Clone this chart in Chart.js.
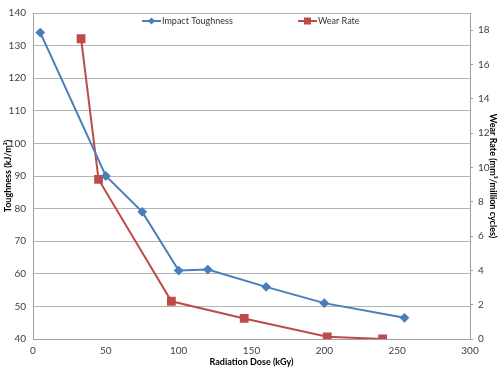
<!DOCTYPE html>
<html><head><meta charset="utf-8">
<script src="https://cdn.jsdelivr.net/npm/chart.js@4/dist/chart.umd.min.js"></script>
<style>html,body{margin:0;padding:0;background:#fff}#w{width:500px;height:368px}</style>
</head><body><div id="w"><canvas id="c"></canvas></div>
<script>
const toughDose = [5, 50, 75, 100, 120, 160, 200, 255];
const toughValues = [134, 90, 79, 61, 61.3, 56, 51, 46.5];
const wearDose = [33, 45, 95, 145, 202, 240];
const wearValues = [17.5, 9.3, 2.2, 1.2, 0.13, 0];
const leftTicks = [40, 50, 60, 70, 80, 90, 100, 110, 120, 130, 140];
const rightTicks = [0, 2, 4, 6, 8, 10, 12, 14, 16, 18];
const xTicks = [0, 50, 100, 150, 200, 250, 300];

const FONT = 'Lato, "Liberation Sans", sans-serif';
const blue = '#4a7ebb', red = '#be4b48';
const tickCol = '#404040';

const legendPlugin = {
  id: 'customLegend',
  afterDraw(chart) {
    const ctx = chart.ctx;
    const pos = [142, 298];
    const y = 21;
    chart.data.datasets.forEach((ds, i) => {
      const x = pos[i];
      ctx.save();
      ctx.strokeStyle = ds.borderColor; ctx.lineWidth = 2;
      ctx.beginPath(); ctx.moveTo(x, y); ctx.lineTo(x + 19, y); ctx.stroke();
      ctx.fillStyle = ds.backgroundColor;
      if (ds.pointStyle === 'rect') {
        ctx.fillRect(x + 6, y - 3.5, 7, 7);
      } else {
        ctx.beginPath(); ctx.moveTo(x + 9.5, y - 3.5); ctx.lineTo(x + 13, y); ctx.lineTo(x + 9.5, y + 3.5); ctx.lineTo(x + 6, y); ctx.closePath(); ctx.fill();
      }
      ctx.fillStyle = '#333'; ctx.font = '9px ' + FONT; ctx.textBaseline = 'middle';
      ctx.fillText(ds.label, x + 20, y);
      ctx.restore();
    });
  }
};

new Chart(document.getElementById('c'), {
  type: 'line',
  data: {
    datasets: [
      { label: 'Impact Toughness', data: toughDose.map((d, i) => ({x: d, y: toughValues[i]})), yAxisID: 'y',
        borderColor: blue, backgroundColor: blue, borderWidth: 2, pointStyle: 'rectRot', pointRadius: 3.5, tension: 0 },
      { label: 'Wear Rate', data: wearDose.map((d, i) => ({x: d, y: wearValues[i]})), yAxisID: 'y2',
        borderColor: red, backgroundColor: red, borderWidth: 2, pointStyle: 'rect', pointRadius: 4.8, tension: 0 }
    ]
  },
  options: {
    responsive: true, maintainAspectRatio: false, animation: false,
    layout: { padding: { top: 4, left: 0, right: 0, bottom: 0 } },
    plugins: { legend: { display: false }, tooltip: { enabled: false } },
    scales: {
      x: { type: 'linear', min: 0, max: 300,
        afterBuildTicks: s => { s.ticks = xTicks.map(v => ({value: v})); },
        afterFit: s => { s.height = 29; },
        grid: { display: false, drawTicks: false },
        border: { display: true, color: '#a0a0a0', width: 1 },
        ticks: { color: tickCol, font: { family: FONT, size: 10 }, padding: 6, maxRotation: 0 },
        title: { display: true, text: 'Radiation Dose (kGy)', color: '#000', font: { family: FONT, size: 9, weight: 'bold' }, padding: { top: 0, bottom: 1 } } },
      y: { position: 'left', min: 40, max: 140,
        afterBuildTicks: s => { s.ticks = leftTicks.map(v => ({value: v})); },
        afterFit: s => { s.width = 33; },
        grid: { color: '#b4b4b4', lineWidth: 1, drawTicks: false },
        border: { display: true, color: '#a0a0a0', width: 1 },
        ticks: { color: tickCol, font: { family: FONT, size: 10 }, padding: 7 },
        title: { display: true, text: 'Toughness (kJ/m²)', color: '#000', font: { family: FONT, size: 9, weight: 'bold' }, padding: { top: 3, bottom: 0 } } },
      y2: { position: 'right', min: 0, max: 19,
        afterBuildTicks: s => { s.ticks = rightTicks.map(v => ({value: v})); },
        afterFit: s => { s.width = 30; },
        grid: { display: true, drawOnChartArea: false, drawTicks: true, tickLength: 3, color: '#a0a0a0' },
        border: { display: true, color: '#a0a0a0', width: 1 },
        ticks: { color: tickCol, font: { family: FONT, size: 10 }, padding: 5 },
        title: { display: true, text: 'Wear Rate (mm³/million cycles)', color: '#000', font: { family: FONT, size: 9, weight: 'bold' }, padding: { top: 2, bottom: 0 } } }
    }
  },
  plugins: [legendPlugin]
});
</script></body></html>
